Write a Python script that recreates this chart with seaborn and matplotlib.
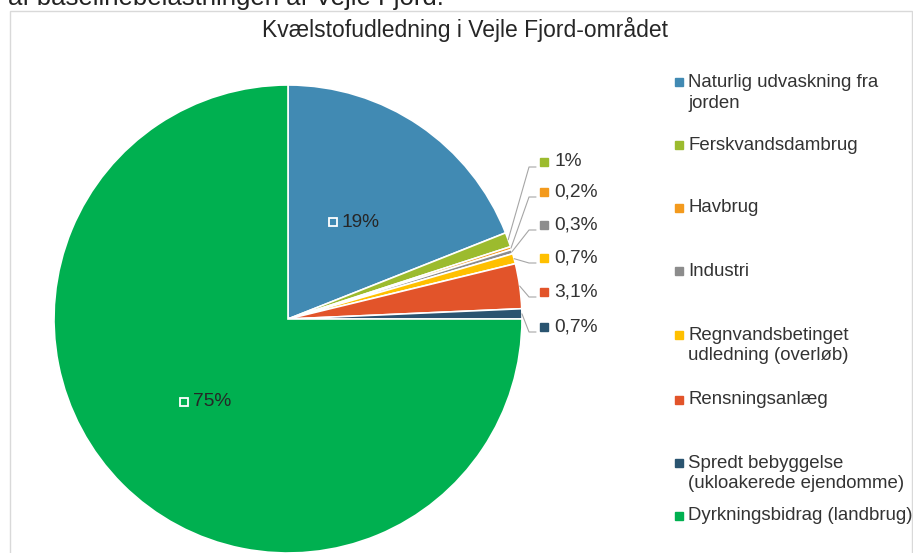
import matplotlib
matplotlib.use("Agg")
import matplotlib.pyplot as plt
import matplotlib.transforms as mtransforms
from matplotlib.patches import Rectangle
import numpy as np
import seaborn as sns

# ---------------- data ----------------
categories = [
    "Naturlig udvaskning fra\njorden",
    "Ferskvandsdambrug",
    "Havbrug",
    "Industri",
    "Regnvandsbetinget\nudledning (overløb)",
    "Rensningsanlæg",
    "Spredt bebyggelse\n(ukloakerede ejendomme)",
    "Dyrkningsbidrag (landbrug)",
]
values = [19, 1, 0.2, 0.3, 0.7, 3.1, 0.7, 75]
value_labels = ["19%", "1%", "0,2%", "0,3%", "0,7%", "3,1%", "0,7%", "75%"]
colors = ["#418AB3", "#9CBB2E", "#F39A1D", "#8C8C8C",
          "#FFC000", "#E2542A", "#2A5470", "#00B050"]
title = "Kvælstofudledning i Vejle Fjord-området"
top_caption = "af baselinebelastningen af Vejle Fjord."

# ---------------- layout ----------------
W, H = 913, 553
cx, cy, R = 288, 319, 234          # pie centre / radius in pixels
inside = [0, 7]
outside_label_py = {1: 162, 2: 192, 3: 225, 4: 258, 5: 292, 6: 327}
legend_py = [82, 145, 208, 271, 335, 400, 463, 516]
txt_color = "#333333"

sns.set_theme(style="white")
plt.rcParams["font.family"] = ["Liberation Sans", "DejaVu Sans"]

fig = plt.figure(figsize=(W / 100, H / 100), dpi=100)
fig.patch.set_facecolor("white")

# chart frame
fig.patches.append(Rectangle((9.5 / W, -0.05), (911.5 - 9.5) / W, 1.05 - 10.5 / H,
                             transform=fig.transFigure, fill=False,
                             edgecolor="#D9D9D9", linewidth=1.0))
# clipped caption at the very top (cut off in the reference as well)
fig.text(8 / W, 1 - 5 / H, top_caption, ha="left", va="baseline",
         fontsize=18.5, color="#222222")

ax = fig.add_axes([(cx - R) / W, (H - cy - R) / H, 2 * R / W, 2 * R / H])
wedges, _ = ax.pie(values, colors=colors, startangle=90, counterclock=False,
                   radius=1, wedgeprops=dict(edgecolor="white", linewidth=1.2))
ax.set_xlim(-1, 1)
ax.set_ylim(-1, 1)
ax.set_aspect("equal")
ax.axis("off")

def px_offset(dx):
    return ax.transData + mtransforms.ScaledTranslation(dx / 100, 0, fig.dpi_scale_trans)

for i, w in enumerate(wedges):
    mid = np.deg2rad((w.theta1 + w.theta2) / 2)
    ex, ey = np.cos(mid), np.sin(mid)
    if i in inside:
        x, y = 0.5 * ex, 0.5 * ey
        ax.plot([x], [y], marker="s", markersize=5.5, markerfacecolor="none",
                markeredgecolor="white", markeredgewidth=1.3,
                transform=px_offset(-21), clip_on=False)
        ax.text(x, y, value_labels[i], ha="left", va="center", fontsize=13.8,
                color="#262626", transform=px_offset(-12))
    else:
        ly = (cy - outside_label_py[i]) / R
        lx_sq = (544 - cx) / R
        lx_tx = (554 - cx) / R
        hy = ly - 5 / R
        ax.plot([ex, 1.03, 1.06], [ey, hy, hy], color="#A6A6A6", lw=0.8,
                clip_on=False)
        ax.plot([lx_sq], [ly], marker="s", markersize=5.5, color=colors[i],
                clip_on=False, linestyle="none")
        ax.text(lx_tx, ly, value_labels[i], ha="left", va="center", fontsize=13.8,
                color=txt_color, clip_on=False)

# title
fig.text(465 / W, 1 - 30 / H, title, ha="center", va="center", fontsize=16.5,
         color="#262626")

# legend (drawn manually to mimic the uneven spacing)
for i, (lab, py) in enumerate(zip(categories, legend_py)):
    fig.lines.append(plt.Line2D([678.5 / W], [1 - py / H], marker="s",
                                markersize=5.2, color=colors[i], linestyle="none",
                                transform=fig.transFigure))
    for k, line in enumerate(lab.split("\n")):
        fig.text(688 / W, 1 - (py + 21 * k) / H, line, ha="left", va="center",
                 fontsize=13.4, color=txt_color)

fig.savefig("out.png", dpi=100)
